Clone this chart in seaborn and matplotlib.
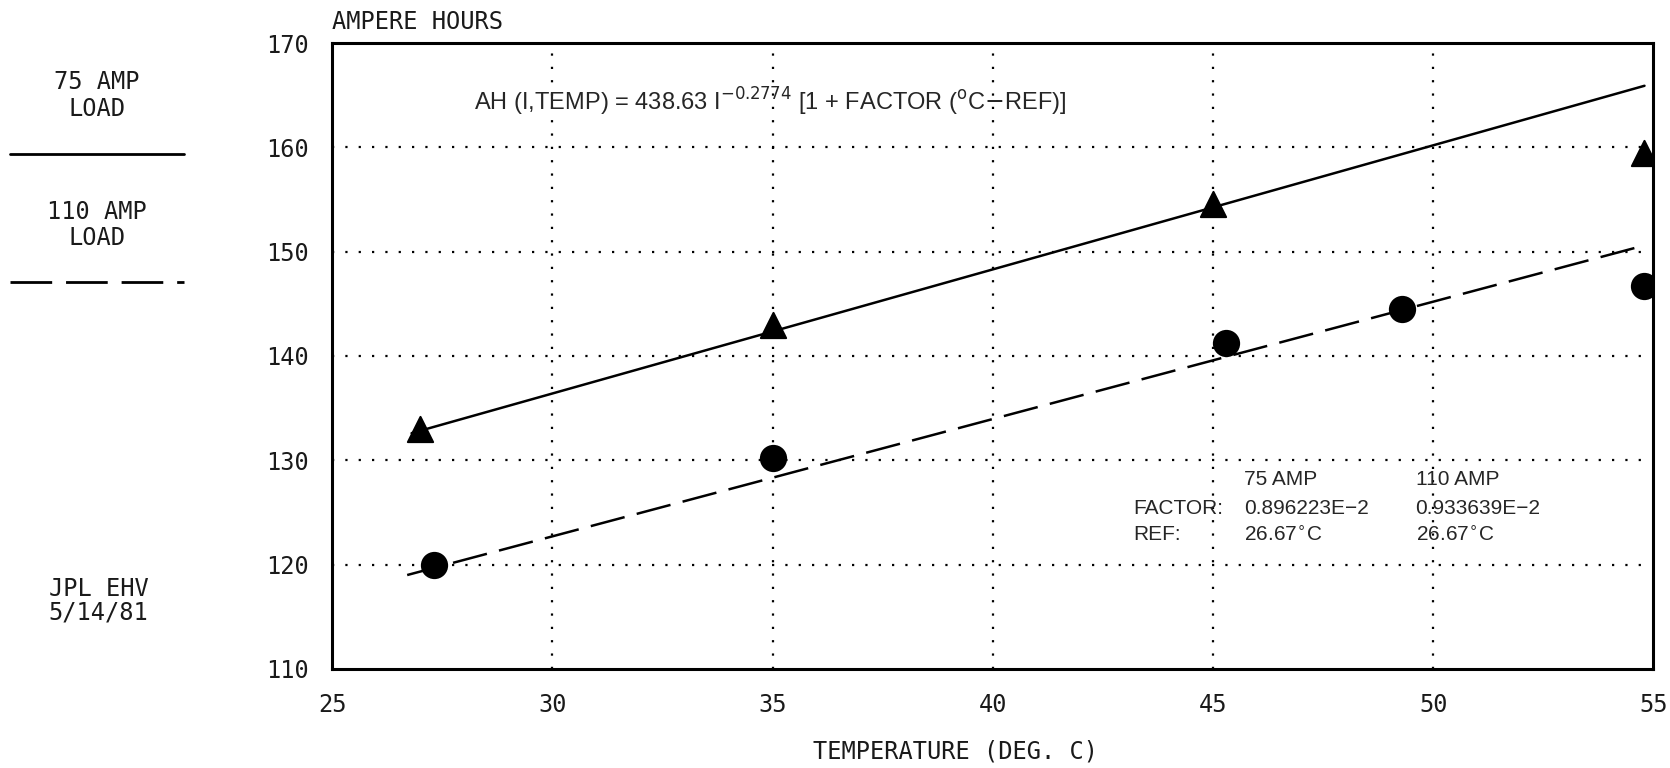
import matplotlib
matplotlib.use("Agg")
import matplotlib.pyplot as plt
import seaborn as sns
import pandas as pd

# Data
temp_75 = [27.0, 35.0, 45.0, 54.8]
ah_75 = [133.0, 143.0, 154.6, 159.5]
temp_110 = [27.3, 35.0, 45.3, 49.3, 54.8]
ah_110 = [120.0, 130.2, 141.2, 144.5, 146.7]
fit75_x = [26.8, 54.8]
fit75_y = [132.6, 165.9]
fit110_x = [26.7, 54.8]
fit110_y = [119.0, 150.6]
x_ticks = [25, 30, 35, 40, 45, 50, 55]
y_ticks = [110, 120, 130, 140, 150, 160, 170]

sns.set_theme(style="white")
plt.rcParams['font.family'] = ['DejaVu Sans']

fig = plt.figure(figsize=(16.7, 7.68), dpi=100)
ax = fig.add_axes([0.199, 0.129, 0.791, 0.815])

df75 = pd.DataFrame({"T": temp_75, "AH": ah_75})
df110 = pd.DataFrame({"T": temp_110, "AH": ah_110})
f75 = pd.DataFrame({"T": fit75_x, "AH": fit75_y})
f110 = pd.DataFrame({"T": fit110_x, "AH": fit110_y})

# grid
for yv in y_ticks[1:-1]:
    ax.axhline(yv, color="black", lw=1.6, ls=(0, (1, 5)), zorder=1)
for xv in x_ticks[1:-1]:
    ax.axvline(xv, color="black", lw=1.6, ls=(0, (1, 5)), zorder=1)

sns.lineplot(data=f75, x="T", y="AH", ax=ax, color="black", lw=1.8, zorder=2)
sns.lineplot(data=f110, x="T", y="AH", ax=ax, color="black", lw=1.8, zorder=2,
             dashes=False, linestyle=(0, (14, 5)))
sns.scatterplot(data=df75, x="T", y="AH", ax=ax, marker="^", s=330, color="black",
                edgecolor="black", zorder=3)
sns.scatterplot(data=df110, x="T", y="AH", ax=ax, marker="o", s=330, color="black",
                edgecolor="black", zorder=3)

ax.set_xlim(25, 55)
ax.set_ylim(110, 170)
ax.set_xticks(x_ticks)
ax.set_yticks(y_ticks)
ax.set_xticks(range(25, 56), minor=True)
ax.set_yticks(range(110, 171, 5), minor=True)
mono = "DejaVu Sans Mono"
tc = "#1a1a1a"
ax.set_xticklabels([str(v) for v in x_ticks], family=mono, fontsize=17, color=tc)
ax.set_yticklabels([str(v) for v in y_ticks], family=mono, fontsize=17, color=tc)
ax.tick_params(axis="x", which="major", direction="in", length=12, width=1.3, pad=17)
ax.tick_params(axis="x", which="minor", direction="in", length=7, width=1.3)
ax.tick_params(axis="y", which="major", direction="in", length=0, pad=17)
ax.tick_params(axis="y", which="minor", direction="in", length=7, width=1.3)
for s in ax.spines.values():
    s.set_visible(True)
    s.set_color("black")
    s.set_linewidth(2.2)
ax.set_xlabel("")
ax.set_ylabel("")
fig.text(0.572, 0.022, "TEMPERATURE (DEG. C)", family=mono, fontsize=17, color=tc,
         ha="center", va="center")

fig.text(0.199, 0.972, "AMPERE HOURS", family=mono, fontsize=17, color=tc,
         ha="left", va="center")

ax.text(0.107, 0.906,
        r"AH (I,TEMP) = 438.63 I$^{-0.2774}$ [1 + FACTOR ($^{\mathrm{o}}$C$-$REF)]",
        transform=ax.transAxes, family="Liberation Sans", fontsize=17, ha="left", va="center")

tx = dict(family="Liberation Sans", fontsize=15, ha="left", va="center")
ax.text(0.690, 0.302, "75 AMP", transform=ax.transAxes, **tx)
ax.text(0.820, 0.302, "110 AMP", transform=ax.transAxes, **tx)
ax.text(0.606, 0.256, "FACTOR:", transform=ax.transAxes, **tx)
ax.text(0.690, 0.256, "0.896223E\u22122", transform=ax.transAxes, **tx)
ax.text(0.820, 0.256, "0.933639E\u22122", transform=ax.transAxes, **tx)
ax.text(0.606, 0.214, "REF:", transform=ax.transAxes, **tx)
ax.text(0.690, 0.214, r"26.67$^{\circ}$C", transform=ax.transAxes, **tx)
ax.text(0.820, 0.214, r"26.67$^{\circ}$C", transform=ax.transAxes, **tx)

# left side legend-like annotations
lt = dict(family=mono, fontsize=17, color=tc, ha="center", va="center")
fig.text(0.058, 0.876, "75 AMP\nLOAD", linespacing=1.15, **lt)
fig.add_artist(plt.Line2D([0.006, 0.110], [0.799, 0.799], color="black", lw=2,
                          transform=fig.transFigure))
fig.text(0.058, 0.707, "110 AMP\nLOAD", linespacing=1.15, **lt)
fig.add_artist(plt.Line2D([0.006, 0.110], [0.633, 0.633], color="black", lw=2,
                          ls=(0, (15, 5)), transform=fig.transFigure))
fig.text(0.059, 0.218, "JPL EHV\n5/14/81", linespacing=1.0, **lt)

fig.savefig("out.png", dpi=100)
